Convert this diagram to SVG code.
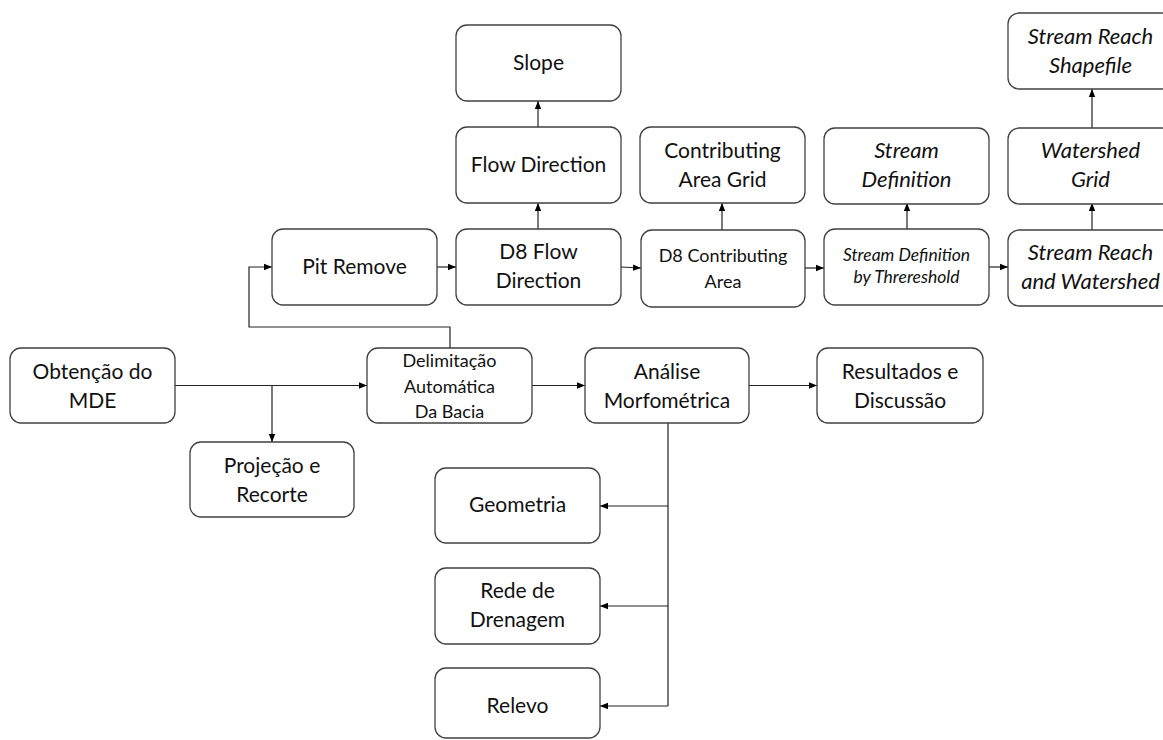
<svg xmlns="http://www.w3.org/2000/svg" width="1163" height="740" viewBox="0 0 1163 740">
<defs>
<marker id="arr" markerUnits="userSpaceOnUse" markerWidth="8" markerHeight="8" viewBox="0 0 8 8" refX="8" refY="4" orient="auto">
<path d="M0,0.8 L8,4 L0,7.2 Z" fill="#000"/>
</marker>
<style>
.box{fill:#fff;stroke:#404040;stroke-width:1.3}
.t{font-family:Lato,"Open Sans",sans-serif;font-size:21px;fill:#111;text-anchor:middle}
.i{font-style:italic;font-size:22px}
.m{font-size:18px}
.s{font-size:17.5px}
.c{fill:none;stroke:#222;stroke-width:1.2}
.a{marker-end:url(#arr)}
</style>
</defs>
<rect width="1163" height="740" fill="#fff"/>
<g id="connectors">
<path class="c a" d="M175,385.5 H367"/>
<path class="c a" d="M272,385.5 V442"/>
<path class="c a" d="M450,348 V327 H249 V267 H272"/>
<path class="c a" d="M437,267 H456"/>
<path class="c a" d="M621,267 L641,268"/>
<path class="c a" d="M805,268 H824"/>
<path class="c a" d="M989,267 H1008"/>
<path class="c a" d="M538,229 V203"/>
<path class="c a" d="M538,127 V101"/>
<path class="c a" d="M722,230 V203"/>
<path class="c a" d="M907,229 V203"/>
<path class="c a" d="M1092,230 V203"/>
<path class="c a" d="M1092,128 V89"/>
<path class="c a" d="M532,385.5 H585"/>
<path class="c a" d="M749,385.5 H817"/>
<path class="c" d="M668,423 V706"/>
<path class="c a" d="M668,506 H600"/>
<path class="c a" d="M668,606 H600"/>
<path class="c a" d="M668,706 H600"/>
</g>
<g id="slope"><rect class="box" x="456" y="25" width="165" height="76" rx="11"/><text class="t" x="538.5" y="70">Slope</text></g>
<g id="flow-direction"><rect class="box" x="456" y="127" width="165" height="76" rx="11"/><text class="t" x="538.5" y="172">Flow Direction</text></g>
<g id="contributing-area-grid"><rect class="box" x="640" y="127" width="165" height="76" rx="11"/><text class="t" x="722.5" y="158">Contributing</text><text class="t" x="722.5" y="187">Area Grid</text></g>
<g id="stream-definition"><rect class="box" x="824" y="128" width="165" height="76" rx="11"/><text class="t i" x="906.5" y="158">Stream</text><text class="t i" x="906.5" y="187">Definition</text></g>
<g id="watershed-grid"><rect class="box" x="1008" y="128" width="165" height="76" rx="11"/><text class="t i" x="1090.5" y="158">Watershed</text><text class="t i" x="1090.5" y="187">Grid</text></g>
<g id="stream-reach-shapefile"><rect class="box" x="1008" y="13" width="165" height="76" rx="11"/><text class="t i" x="1090.5" y="44">Stream Reach</text><text class="t i" x="1090.5" y="73">Shapefile</text></g>
<g id="pit-remove"><rect class="box" x="272" y="229" width="165" height="76" rx="11"/><text class="t" x="354.5" y="274">Pit Remove</text></g>
<g id="d8-flow-direction"><rect class="box" x="456" y="229" width="165" height="76" rx="11"/><text class="t" x="538.5" y="259">D8 Flow</text><text class="t" x="538.5" y="288">Direction</text></g>
<g id="d8-contributing-area"><rect class="box" x="641" y="230" width="164" height="77" rx="11"/><text class="t m" x="723" y="262">D8 Contributing</text><text class="t m" x="723" y="288">Area</text></g>
<g id="stream-definition-threshold"><rect class="box" x="824" y="229" width="165" height="76" rx="11"/><text class="t i s" x="906.5" y="261">Stream Definition</text><text class="t i s" x="906.5" y="283">by Threreshold</text></g>
<g id="stream-reach-watershed"><rect class="box" x="1008" y="230" width="165" height="76" rx="11"/><text class="t i" x="1090.5" y="260">Stream Reach</text><text class="t i" x="1090.5" y="289">and Watershed</text></g>
<g id="obtencao"><rect class="box" x="10" y="348" width="165" height="75" rx="11"/><text class="t" x="92.5" y="379">Obtenção do</text><text class="t" x="92.5" y="408">MDE</text></g>
<g id="projecao"><rect class="box" x="190" y="442" width="164" height="75" rx="11"/><text class="t" x="272" y="473">Projeção e</text><text class="t" x="272" y="502">Recorte</text></g>
<g id="delimitacao"><rect class="box" x="367" y="348" width="165" height="75" rx="11"/><text class="t m" x="449.5" y="367">Delimitação</text><text class="t m" x="449.5" y="393">Automática</text><text class="t m" x="449.5" y="418">Da Bacia</text></g>
<g id="analise"><rect class="box" x="585" y="348" width="164" height="75" rx="11"/><text class="t" x="667" y="379">Análise</text><text class="t" x="667" y="408">Morfométrica</text></g>
<g id="resultados"><rect class="box" x="817" y="348" width="166" height="75" rx="11"/><text class="t" x="900" y="379">Resultados e</text><text class="t" x="900" y="408">Discussão</text></g>
<g id="geometria"><rect class="box" x="435" y="468" width="165" height="75" rx="11"/><text class="t" x="517.5" y="512">Geometria</text></g>
<g id="rede"><rect class="box" x="435" y="568" width="165" height="76" rx="11"/><text class="t" x="517.5" y="598">Rede de</text><text class="t" x="517.5" y="627">Drenagem</text></g>
<g id="relevo"><rect class="box" x="435" y="668" width="165" height="70" rx="11"/><text class="t" x="517.5" y="713">Relevo</text></g>
</svg>
